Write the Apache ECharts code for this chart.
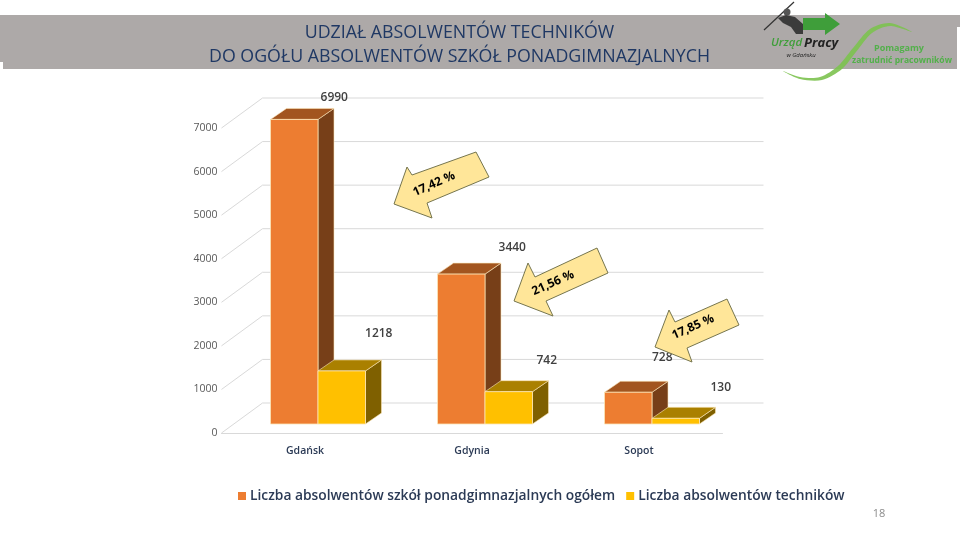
<!DOCTYPE html>
<html><head><meta charset="utf-8">
<style>html,body{margin:0;padding:0;background:#fff}#c{width:960px;height:540px}</style>
<script src="https://cdn.jsdelivr.net/npm/echarts@6/dist/echarts.min.js"></script>
</head><body><div id="c"></div>
<script>
const categories = ['Gdańsk', 'Gdynia', 'Sopot'];
const totalName = 'Liczba absolwentów szkół ponadgimnazjalnych ogółem';
const techName = 'Liczba absolwentów techników';
const totalValues = [6990, 3440, 728];
const techValues = [1218, 742, 130];
const yTicks = [0, 1000, 2000, 3000, 4000, 5000, 6000, 7000];
const shares = ['17,42 %', '21,56 %', '17,85 %'];

// layout constants (3D look)
const WALL = [41, 30], BAR_SHIFT = [13, 9], BAR_DEPTH = [16, 11], BAR_W = 0.2844;
const totalNudge = [[40, -22], [51, -27], [34, -35]];
const techNudge = [[37, -37], [38, -31], [45, -31]];
const FONT = '"Open Sans","Liberation Sans",sans-serif';

function barSeries(name, values, side, colors, nudges) {
  return {
    name, type: 'custom', z: side === 0 ? 3 : 4,
    itemStyle: { color: colors.front },
    data: values.map((v, i) => [i, v]),
    encode: { x: 0, y: 1 },
    renderItem(params, api) {
      const c = api.value(0), v = api.value(1);
      const base = api.coord([c, 0]), top = api.coord([c, v]);
      const w = api.size([1, 0])[0] * BAR_W;
      const x = base[0] + BAR_SHIFT[0] + (side === 0 ? -w : 0);
      const y0 = base[1] - BAR_SHIFT[1], y1 = top[1] - BAR_SHIFT[1];
      const [dx, dy] = BAR_DEPTH, n = nudges[params.dataIndex];
      const edge = '#FBE6B8';
      return { type: 'group', children: [
        { type: 'polygon', shape: { points: [[x + w, y0], [x + w + dx, y0 - dy], [x + w + dx, y1 - dy], [x + w, y1]] },
          style: { fill: colors.side, stroke: edge, lineWidth: 0.6 } },
        { type: 'polygon', shape: { points: [[x, y1], [x + dx, y1 - dy], [x + w + dx, y1 - dy], [x + w, y1]] },
          style: { fill: colors.top, stroke: edge, lineWidth: 0.6 } },
        { type: 'rect', shape: { x, y: y1, width: w, height: y0 - y1 },
          style: { fill: colors.front, stroke: edge, lineWidth: 0.8 } },
        { type: 'text', z2: 5, style: { x: x + w / 2 + n[0], y: y1 + n[1], text: String(v), align: 'center', verticalAlign: 'middle',
          font: '600 12px ' + FONT, fill: '#404040' } }
      ] };
    }
  };
}

function arrow(points, label, tx, ty) {
  return [
    { type: 'polygon', z: 100, shape: { points },
      style: { fill: '#FFE699', stroke: '#76764F', lineWidth: 1 } },
    { type: 'text', z: 101, x: tx, y: ty, rotation: 24 * Math.PI / 180,
      style: { text: label, align: 'center', verticalAlign: 'middle', font: 'bold 12px "Open Sans",sans-serif', fill: '#000' } }
  ];
}

const logo = [
  { type: 'polygon', z: 90, shape: { smooth: 0.3, points: [[783, 71], [800, 77], [820, 77], [838, 66], [853, 48], [870, 29], [890, 23], [912, 32], [890, 26], [872, 33], [856, 52], [842, 69], [822, 80], [800, 79]] },
    style: { fill: '#7CC24F', opacity: 0.9 } },
  { type: 'polygon', z: 91, shape: { points: [[803, 18], [825, 18], [825, 13], [840, 24], [825, 35], [825, 30], [803, 30]] },
    style: { fill: '#3F9E3A' } },
  { type: 'line', z: 92, shape: { x1: 764, y1: 30, x2: 794, y2: 2 }, style: { stroke: '#333', lineWidth: 1.2 } },
  { type: 'circle', z: 92, shape: { cx: 787, cy: 12, r: 3.5 }, style: { fill: '#555' } },
  { type: 'polygon', z: 92, shape: { points: [[778, 18], [786, 15], [795, 17], [803, 24], [803, 34], [796, 34], [791, 27], [783, 23]] },
    style: { fill: '#3b3b3b' } },
  { type: 'text', z: 93, x: 771, y: 43, style: { text: 'Urząd', verticalAlign: 'middle', font: 'italic 600 11.5px "Open Sans",sans-serif', fill: '#3F9E3A' } },
  { type: 'text', z: 93, x: 804, y: 43, style: { text: 'Pracy', verticalAlign: 'middle', font: 'italic bold 13px "Open Sans",sans-serif', fill: '#222' } },
  { type: 'text', z: 93, x: 801, y: 55, style: { text: 'w Gdańsku', align: 'center', verticalAlign: 'middle', font: 'italic 6px "Open Sans",sans-serif', fill: '#222' } },
  { type: 'text', z: 93, x: 899, y: 48, style: { text: 'Pomagamy', align: 'center', verticalAlign: 'middle', font: 'bold 9px "Open Sans",sans-serif', fill: '#52B04A' } },
  { type: 'text', z: 93, x: 902, y: 61, style: { text: 'zatrudnić pracowników', align: 'center', verticalAlign: 'middle', font: 'bold 8.5px "Open Sans",sans-serif', fill: '#52B04A' } }
];

const option = {
  animation: false,
  backgroundColor: '#fff',
  title: {
    text: 'UDZIAŁ ABSOLWENTÓW TECHNIKÓW\nDO OGÓŁU ABSOLWENTÓW SZKÓŁ PONADGIMNAZJALNYCH',
    left: 454.5, top: 16, textAlign: 'center', z: 10,
    textStyle: { fontFamily: FONT, fontSize: 17.8, fontWeight: 500, color: '#1F3864', lineHeight: 24 }
  },
  grid: { left: 221.5, top: 128, width: 501, height: 305, containLabel: false },
  xAxis: {
    type: 'category', data: categories, axisLine: { lineStyle: { color: '#D9D9D9' } }, axisTick: { show: false },
    axisLabel: { margin: 13, fontFamily: FONT, fontSize: 10.5, fontWeight: 600, color: '#2B3A55' }
  },
  yAxis: {
    type: 'value', min: 0, max: 7000, interval: 1000, splitLine: { show: false }, axisLine: { show: false }, axisTick: { show: false },
    axisLabel: { margin: 4, fontFamily: FONT, fontSize: 10.5, color: '#595959', formatter: v => String(v) }
  },
  legend: {
    data: [totalName, techName], left: 233, top: 484, icon: 'rect', itemWidth: 8, itemHeight: 8, itemGap: 11,
    textStyle: { fontFamily: FONT, fontSize: 13.8, fontWeight: 600, color: '#2B3A55', padding: [0, 0, 0, -1] }
  },
  series: [
    { name: 'wall', type: 'custom', z: 1, silent: true, data: yTicks.map(v => [0, v]), encode: { x: 0, y: 1 },
      renderItem(params, api) {
        const p = api.coord([0, api.value(1)]);
        const x0 = p[0] - api.size([1, 0])[0] / 2, x1 = x0 + api.size([1, 0])[0] * categories.length;
        const st = { stroke: '#D9D9D9', lineWidth: 1, fill: 'none' };
        return { type: 'polyline', shape: { points: [[x0, p[1]], [x0 + WALL[0], p[1] - WALL[1]], [x1 + WALL[0], p[1] - WALL[1]]] }, style: st };
      } },
    barSeries(totalName, totalValues, 0, { front: '#ED7D31', top: '#A2551F', side: '#773F18' }, totalNudge),
    barSeries(techName, techValues, 1, { front: '#FFC000', top: '#AA8000', side: '#7F6000' }, techNudge)
  ],
  graphic: [
    { type: 'polygon', z: 0, shape: { points: [[0, 15], [960, 15], [960, 27], [957, 27], [957, 69], [3, 69], [3, 62], [0, 62]] }, style: { fill: '#ADA9A8' } },
    ...arrow([[412, 175], [476, 152], [489, 177], [427, 203], [432, 218], [394, 204], [407, 167]], shares[0], 434, 184),
    ...arrow([[535, 277], [597, 248], [608, 273], [546, 301], [553, 316], [514, 301], [528, 263]], shares[1], 553, 283),
    ...arrow([[675, 322], [727, 299], [739, 325], [687, 348], [692, 362], [655, 347], [669, 310]], shares[2], 693, 327),
    { type: 'text', z: 50, x: 879, y: 514, style: { text: '18', align: 'center', verticalAlign: 'middle', font: '11px ' + FONT, fill: '#8B8B8B' } },
    ...logo
  ]
};
echarts.init(document.getElementById('c'), null, { renderer: 'canvas' }).setOption(option);
</script></body></html>
